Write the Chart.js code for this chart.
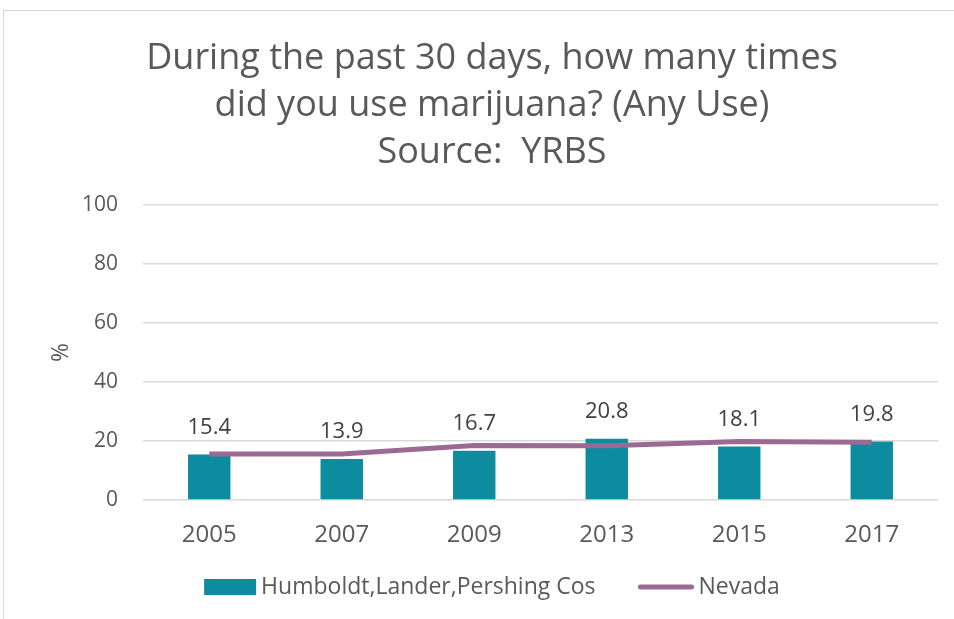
<!DOCTYPE html>
<html>
<head>
<meta charset="utf-8">
<script src="https://cdn.jsdelivr.net/npm/chart.js@4.4.1/dist/chart.umd.min.js"></script>
<style>
  body { margin: 0; background: #fff; }
  #frame { position: absolute; left: 3px; top: 10px; width: 980px; height: 640px; border: 1px solid #d9d9d9; }
  #wrap { position: absolute; left: 0; top: 0; width: 954px; height: 619px; }
</style>
</head>
<body>
<div id="frame"></div>
<div id="wrap"><canvas id="chart"></canvas></div>
<script>
// chart data
const years = ["2005", "2007", "2009", "2013", "2015", "2017"];
const countyValues = [15.4, 13.9, 16.7, 20.8, 18.1, 19.8];
const nevadaValues = [15.6, 15.6, 18.5, 18.4, 19.8, 19.6];
const titleLines = ["During the past 30 days, how many times", "did you use marijuana? (Any Use)", "Source:  YRBS"];

const FONT = "'Open Sans', sans-serif";

// value labels above the bars
const barLabels = {
    id: "barLabels",
    afterDatasetsDraw(chart) {
        const ctx = chart.ctx;
        const meta = chart.getDatasetMeta(1);
        ctx.save();
        ctx.font = "22px " + FONT;
        ctx.fillStyle = "#404040";
        ctx.textAlign = "center";
        ctx.textBaseline = "middle";
        meta.data.forEach((bar, i) => {
            ctx.fillText(countyValues[i].toFixed(1), bar.x, bar.y - 27);
        });
        ctx.restore();
    }
};

// legend drawn under the axis (bar first, then line), Excel style spacing
const bottomLegend = {
    id: "bottomLegend",
    afterDraw(chart) {
        const ctx = chart.ctx;
        const bar = chart.data.datasets[1];
        const line = chart.data.datasets[0];
        const y = chart.height - 32;
        ctx.save();
        ctx.font = "23px " + FONT;
        ctx.textBaseline = "middle";
        ctx.textAlign = "left";
        const w1 = ctx.measureText(bar.label).width;
        const w2 = ctx.measureText(line.label).width;
        const total = 52 + 5 + w1 + 43 + 55 + 5 + w2;
        const center = (chart.scales.y.left + chart.chartArea.right) / 2;
        let x = center - total / 2;

        ctx.fillStyle = bar.backgroundColor;
        ctx.fillRect(x, y - 8, 52, 16);
        x += 57;
        ctx.fillStyle = "#595959";
        ctx.fillText(bar.label, x, y);
        x += w1 + 43;

        ctx.strokeStyle = line.borderColor;
        ctx.lineWidth = 5;
        ctx.lineCap = "round";
        ctx.beginPath();
        ctx.moveTo(x + 2, y);
        ctx.lineTo(x + 53, y);
        ctx.stroke();
        x += 60;
        ctx.fillText(line.label, x, y);
        ctx.restore();
    }
};

new Chart(document.getElementById("chart"), {
    data: {
        labels: years,
        datasets: [
            {
                type: "line",
                label: "Nevada",
                data: nevadaValues,
                borderColor: "#9b6a92",
                backgroundColor: "#9b6a92",
                borderWidth: 5,
                pointRadius: 0,
                tension: 0,
                order: 0
            },
            {
                type: "bar",
                label: "Humboldt,Lander,Pershing Cos",
                data: countyValues,
                backgroundColor: "#0e8c9f",
                barPercentage: 0.32,
                categoryPercentage: 1,
                order: 1
            }
        ]
    },
    options: {
        responsive: true,
        maintainAspectRatio: false,
        animation: false,
        layout: { padding: { left: 46, right: 16, top: 35, bottom: 49 } },
        plugins: {
            title: {
                display: true,
                text: titleLines,
                color: "#595959",
                font: { family: FONT, size: 36, weight: "normal", lineHeight: 1.305 },
                padding: { top: 0, bottom: 29 }
            },
            legend: { display: false },
            tooltip: { enabled: false }
        },
        scales: {
            x: {
                grid: { display: false, drawTicks: false },
                border: { display: false },
                ticks: { color: "#595959", font: { family: FONT, size: 24, lineHeight: 1 }, padding: 23 }
            },
            y: {
                min: 0,
                max: 100,
                afterFit(scale) { scale.width = 97; },
                ticks: { stepSize: 20, color: "#595959", font: { family: FONT, size: 21 }, padding: 25 },
                grid: { color: "#d9d9d9", lineWidth: 1.5, drawTicks: false },
                border: { display: false },
                title: { display: true, text: "%", color: "#595959", font: { family: FONT, size: 23 }, padding: { top: 2, bottom: 5 } }
            }
        }
    },
    plugins: [barLabels, bottomLegend]
});
</script>
</body>
</html>
